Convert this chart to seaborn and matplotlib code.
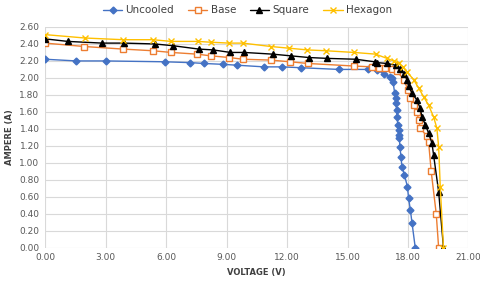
import numpy as np
import pandas as pd
import matplotlib
matplotlib.use("Agg")
import matplotlib.pyplot as plt
import seaborn as sns

# I-V curves
uncooled_v = [0.00, 1.55, 3.00, 5.93, 7.20, 7.90, 8.80, 9.50, 10.87, 11.77, 12.70, 14.57,
              16.02, 16.47, 16.80, 17.13, 17.21, 17.26, 17.34, 17.38, 17.41, 17.43, 17.46,
              17.49, 17.54, 17.55, 17.57, 17.60, 17.65, 17.70, 17.82, 17.97, 18.03, 18.12,
              18.20, 18.36]
uncooled_i = [2.22, 2.20, 2.20, 2.19, 2.18, 2.17, 2.16, 2.15, 2.13, 2.13, 2.12, 2.10,
              2.10, 2.09, 2.05, 2.01, 2.00, 1.95, 1.82, 1.76, 1.70, 1.62, 1.54,
              1.45, 1.39, 1.33, 1.29, 1.19, 1.07, 0.95, 0.86, 0.72, 0.58, 0.44,
              0.29, 0.00]

base_v = [0.00, 1.94, 3.84, 5.34, 6.26, 7.53, 8.22, 9.14, 9.80, 11.20, 12.14, 13.04,
          15.32, 16.22, 16.55, 16.88, 17.21, 17.46, 17.79, 18.00, 18.12, 18.28, 18.44,
          18.53, 18.61, 18.94, 19.02, 19.15, 19.40, 19.52]
base_i = [2.41, 2.37, 2.34, 2.32, 2.30, 2.28, 2.26, 2.24, 2.22, 2.21, 2.19, 2.17,
          2.14, 2.13, 2.12, 2.12, 2.11, 2.08, 1.98, 1.86, 1.76, 1.68, 1.60,
          1.50, 1.41, 1.31, 1.25, 0.90, 0.40, 0.00]

square_v = [0.00, 1.12, 2.83, 3.92, 5.43, 6.32, 7.61, 8.33, 9.19, 9.88, 11.28, 12.19,
            13.09, 14.00, 15.40, 16.35, 16.47, 16.96, 17.38, 17.62, 17.79, 17.95, 18.03,
            18.20, 18.44, 18.61, 18.69, 18.86, 19.02, 19.19, 19.27, 19.52, 19.76]
square_i = [2.46, 2.43, 2.41, 2.41, 2.40, 2.38, 2.34, 2.33, 2.30, 2.30, 2.28, 2.26,
            2.24, 2.23, 2.22, 2.19, 2.18, 2.17, 2.15, 2.11, 2.05, 1.98, 1.90,
            1.82, 1.74, 1.64, 1.54, 1.45, 1.35, 1.23, 1.09, 0.66, 0.00]

hexagon_v = [0.00, 1.98, 3.87, 5.35, 6.26, 7.58, 8.24, 9.14, 9.80, 11.20, 12.10, 13.00,
             13.92, 15.32, 16.39, 16.96, 17.29, 17.54, 17.75, 17.95, 18.28, 18.53, 18.77,
             19.02, 19.27, 19.43, 19.52, 19.60, 19.76]
hexagon_i = [2.51, 2.47, 2.45, 2.45, 2.43, 2.43, 2.42, 2.41, 2.41, 2.37, 2.35, 2.33,
             2.32, 2.30, 2.28, 2.23, 2.20, 2.17, 2.13, 2.07, 1.98, 1.88, 1.78,
             1.68, 1.54, 1.41, 1.19, 0.72, 0.00]

series = [
    ("Uncooled", uncooled_v, uncooled_i, "#4472C4", "D", "#4472C4", 3.5),
    ("Base", base_v, base_i, "#ED7D31", "s", "white", 4.5),
    ("Square", square_v, square_i, "#000000", "^", "#000000", 4),
    ("Hexagon", hexagon_v, hexagon_i, "#FFC000", "x", "#FFC000", 4),
]

sns.set_style("white")
plt.rcParams['font.family'] = ['DejaVu Sans']

fig = plt.figure(figsize=(4.8, 2.81), dpi=100)
ax = fig.add_axes([0.094, 0.1185, 0.882, 0.7855])

for name, v, i, color, marker, face, ms in series:
    df = pd.DataFrame({"V": v, "I": i})
    sns.lineplot(data=df, x="V", y="I", ax=ax, color=color, marker=marker,
                 markerfacecolor=face, markeredgecolor=color, markersize=ms,
                 markeredgewidth=1.0, linewidth=1.0, sort=False, estimator=None,
                 label=name)

ax.set_xlim(0, 21)
ax.set_ylim(0, 2.6)
ax.set_xticks(np.arange(0, 21.01, 3))
ax.set_yticks(np.arange(0, 2.601, 0.2))
ax.xaxis.set_major_formatter(matplotlib.ticker.FormatStrFormatter("%.2f"))
ax.yaxis.set_major_formatter(matplotlib.ticker.FormatStrFormatter("%.2f"))
ax.tick_params(labelsize=6.5, colors="#595959", length=0, pad=4)
ax.grid(True, color="#D9D9D9", linewidth=0.8)
for s in ax.spines.values():
    s.set_visible(False)

ax.set_xlabel("VOLTAGE (V)", fontsize=6, fontweight="bold", color="#404040", labelpad=4)
ax.set_ylabel("AMPERE (A)", fontsize=6, fontweight="bold", color="#404040", labelpad=4)

fig.legend(*ax.get_legend_handles_labels(), loc="upper center",
           bbox_to_anchor=(0.515, 1.015), ncol=4, frameon=False,
           fontsize=7.5, handlelength=1.9, columnspacing=1.3, handletextpad=0.3,
           labelcolor="#404040")
ax.get_legend().remove()

fig.savefig("out.png", dpi=100)
